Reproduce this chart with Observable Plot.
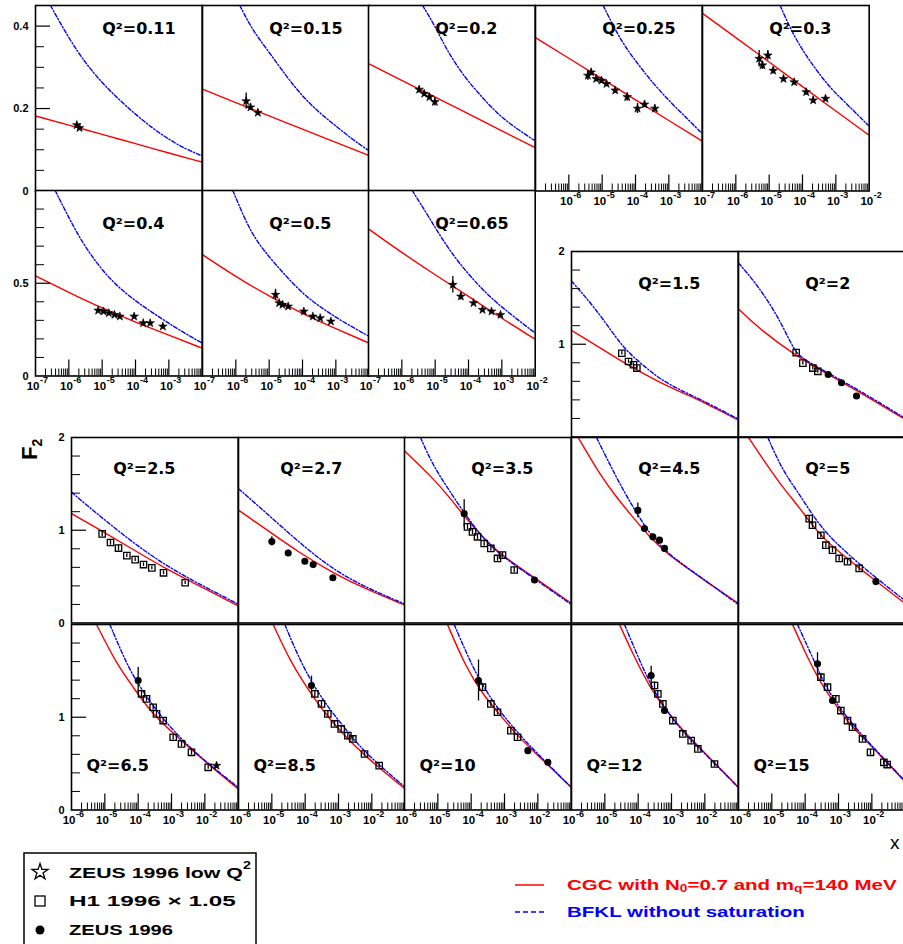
<!DOCTYPE html>
<html>
<head>
<meta charset="utf-8">
<script src="https://cdn.jsdelivr.net/npm/d3@7"></script>
<script src="https://cdn.jsdelivr.net/npm/@observablehq/plot@0.6"></script>
<style>
  body { margin: 0; background: #fff; }
  #fig { position: relative; width: 903px; height: 944px; overflow: hidden; background: #fff; }
  #fig svg { position: absolute; }
</style>
</head>
<body>
<div id="fig"></div>
<script>
// Q² of each panel (GeV²), in drawing order
const q2Labels = ["0.11","0.15","0.2","0.25","0.3","0.4","0.5","0.65","1.5","2",
                  "2.5","2.7","3.5","4.5","5","6.5","8.5","10","12","15"];

// CGC prediction per panel: [log10 x, F2]
const cgcCurves = [
  [[-7,0.182],[-6,0.160],[-5,0.137],[-4,0.115],[-3,0.092],[-2,0.070]],
  [[-7,0.247],[-6,0.214],[-5,0.182],[-4,0.150],[-3,0.118],[-2,0.086]],
  [[-7,0.309],[-6,0.268],[-5,0.228],[-4,0.187],[-3,0.146],[-2,0.105]],
  [[-7,0.372],[-6,0.322],[-5,0.272],[-4,0.221],[-3,0.171],[-2,0.121]],
  [[-7,0.431],[-6,0.372],[-5,0.313],[-4,0.253],[-3,0.194],[-2,0.135]],
  [[-7,0.54],[-6,0.45],[-5,0.365],[-4,0.29],[-3,0.22],[-2,0.15]],
  [[-7,0.654],[-6,0.535],[-5,0.43],[-4,0.335],[-3,0.255],[-2,0.177]],
  [[-7,0.793],[-6,0.665],[-5,0.545],[-4,0.43],[-3,0.31],[-2,0.198]],
  [[-6,1.15],[-5.35,1.009],[-4.34,0.779],[-3.34,0.584],[-2.34,0.425],[-1.83,0.336],[-1,0.184]],
  [[-6,1.38],[-5.32,1.15],[-4.32,0.885],[-3.31,0.673],[-2.3,0.471],[-1,0.188]],
  [[-6,1.18],[-5.13,1.0],[-4.14,0.79],[-3.14,0.577],[-2.15,0.399],[-1,0.185]],
  [[-6,1.217],[-5.15,1.004],[-4.16,0.754],[-3.17,0.541],[-2.17,0.363],[-1,0.192]],
  [[-6,1.857],[-5.17,1.571],[-4.66,1.36],[-4.16,1.13],[-3.66,0.93],[-3.16,0.75],[-2.15,0.5],[-1,0.214]],
  [[-5.8,2.0],[-5.15,1.6],[-4.66,1.36],[-4.16,1.14],[-3.66,0.93],[-3.16,0.75],[-2.17,0.5],[-1,0.214]],
  [[-5.7,2.0],[-5.17,1.714],[-4.68,1.464],[-4.18,1.25],[-3.68,1.0],[-3.18,0.821],[-2.18,0.536],[-1,0.21]],
  [[-5.25,2.0],[-4.65,1.576],[-4.15,1.324],[-3.65,1.072],[-3.15,0.892],[-2.15,0.568],[-1,0.227]],
  [[-4.96,2.0],[-4.46,1.612],[-3.96,1.324],[-3.47,1.072],[-2.97,0.856],[-2.17,0.568],[-1,0.227]],
  [[-4.71,2.0],[-4.16,1.54],[-3.66,1.252],[-3.16,1.036],[-2.66,0.82],[-2.15,0.64],[-1,0.245]],
  [[-4.56,2.0],[-4.16,1.683],[-3.66,1.324],[-3.16,1.072],[-2.66,0.856],[-2.16,0.676],[-1,0.245]],
  [[-4.38,2.0],[-3.98,1.683],[-3.58,1.396],[-3.18,1.18],[-2.68,0.928],[-2.18,0.748],[-1.69,0.568],[-1,0.30]]
];

// BFKL without saturation per panel: [log10 x, F2]
const bfklCurves = [
  [[-6.55,0.45],[-6,0.37],[-5.5,0.31],[-5,0.262],[-4.5,0.222],[-4,0.186],[-3.5,0.153],[-3,0.125],[-2.5,0.102],[-2,0.085]],
  [[-5.88,0.45],[-5.5,0.39],[-5.04,0.341],[-4.5,0.28],[-4.04,0.233],[-3.5,0.19],[-3.05,0.161],[-2.5,0.125],[-2.05,0.10]],
  [[-5.38,0.45],[-5,0.40],[-4.65,0.341],[-4.12,0.276],[-3.6,0.228],[-3.08,0.183],[-2.55,0.151],[-2.03,0.123]],
  [[-4.97,0.45],[-4.45,0.365],[-3.94,0.309],[-3.42,0.256],[-2.91,0.212],[-2.39,0.171],[-2.0,0.139]],
  [[-4.67,0.45],[-4.25,0.373],[-3.73,0.309],[-3.2,0.252],[-2.68,0.212],[-2,0.157]],
  [[-6.41,1.0],[-5.82,0.789],[-5.39,0.663],[-4.85,0.537],[-4.31,0.447],[-3.77,0.375],[-3.24,0.312],[-2.7,0.249],[-2,0.177]],
  [[-6.09,1.0],[-5.56,0.771],[-5.02,0.645],[-4.49,0.537],[-3.96,0.438],[-3.42,0.366],[-2.89,0.303],[-2,0.213]],
  [[-5.69,1.0],[-5.2,0.861],[-4.66,0.699],[-4.12,0.573],[-3.58,0.465],[-3.04,0.375],[-2,0.231]],
  [[-6,1.68],[-5.65,1.54],[-5.04,1.27],[-4.44,0.95],[-3.74,0.74],[-3.34,0.625],[-2.84,0.525],[-2.34,0.44],[-1.83,0.35],[-1,0.195]],
  [[-6,1.876],[-5.53,1.68],[-5.12,1.469],[-4.82,1.292],[-4.52,1.08],[-4.32,0.938],[-4.11,0.85],[-3.31,0.69],[-2.3,0.485],[-1,0.202]],
  [[-6,1.41],[-5.13,1.146],[-4.14,0.861],[-3.14,0.612],[-2.15,0.416],[-1,0.203]],
  [[-6,1.448],[-5.15,1.181],[-4.16,0.861],[-3.17,0.577],[-2.17,0.381],[-1,0.203]],
  [[-5.52,2.0],[-5.17,1.714],[-4.66,1.429],[-4.16,1.161],[-3.66,0.92],[-3.16,0.74],[-2.15,0.49],[-1,0.2]],
  [[-5.25,2.0],[-4.66,1.571],[-4.16,1.25],[-3.66,0.964],[-3.16,0.76],[-2.17,0.505],[-1,0.2]],
  [[-5.12,2.0],[-4.68,1.643],[-4.18,1.393],[-3.68,1.107],[-3.18,0.893],[-2.18,0.571],[-1,0.24]],
  [[-4.85,2.0],[-4.35,1.576],[-3.95,1.324],[-3.45,1.072],[-2.95,0.856],[-2.15,0.568],[-1,0.245]],
  [[-4.61,2.0],[-4.16,1.612],[-3.66,1.288],[-3.16,1.036],[-2.67,0.82],[-2.17,0.604],[-1,0.245]],
  [[-4.51,2.0],[-3.96,1.54],[-3.56,1.288],[-3.16,1.072],[-2.66,0.856],[-2.15,0.658],[-1,0.245]],
  [[-4.41,2.0],[-3.96,1.612],[-3.56,1.30],[-3.16,1.08],[-2.66,0.84],[-2.16,0.665],[-1,0.245]],
  [[-4.23,2.0],[-3.78,1.647],[-3.38,1.324],[-2.98,1.108],[-2.58,0.928],[-2.18,0.76],[-1.69,0.575],[-1,0.31]]
];

// Measurements per panel: [log10 x, F2, error, set]
// set: "s" = ZEUS 1996 low Q², "h" = H1 1996 × 1.05, "z" = ZEUS 1996
const measurements = [
  [[-5.76,0.160,0.006,"s"],[-5.68,0.153,0.006,"s"]],
  [[-5.69,0.218,0.02,"s"],[-5.56,0.203,0.008,"s"],[-5.34,0.19,0.007,"s"]],
  [[-5.48,0.246,0.008,"s"],[-5.33,0.236,0.007,"s"],[-5.17,0.228,0.007,"s"],[-5.01,0.216,0.01,"s"]],
  [[-5.43,0.28,0.012,"s"],[-5.33,0.288,0.008,"s"],[-5.18,0.272,0.007,"s"],[-5.02,0.268,0.007,"s"],[-4.87,0.26,0.007,"s"],
   [-4.61,0.244,0.007,"s"],[-4.25,0.228,0.01,"s"],[-3.94,0.2,0.012,"s"],[-3.73,0.21,0.008,"s"],[-3.42,0.2,0.008,"s"]],
  [[-5.3,0.321,0.02,"s"],[-5.2,0.305,0.01,"s"],[-5.04,0.329,0.012,"s"],[-4.88,0.292,0.008,"s"],[-4.57,0.272,0.007,"s"],
   [-4.25,0.264,0.007,"s"],[-3.89,0.24,0.008,"s"],[-3.68,0.22,0.008,"s"],[-3.31,0.224,0.007,"s"]],
  [[-5.12,0.353,0.01,"s"],[-4.96,0.348,0.008,"s"],[-4.8,0.339,0.008,"s"],[-4.63,0.33,0.008,"s"],[-4.47,0.321,0.008,"s"],
   [-4.04,0.321,0.01,"s"],[-3.77,0.285,0.008,"s"],[-3.56,0.285,0.008,"s"],[-3.18,0.267,0.01,"s"]],
  [[-4.81,0.438,0.03,"s"],[-4.7,0.393,0.01,"s"],[-4.6,0.384,0.01,"s"],[-4.43,0.375,0.01,"s"],[-3.96,0.348,0.01,"s"],
   [-3.69,0.321,0.01,"s"],[-3.47,0.312,0.01,"s"],[-3.15,0.294,0.01,"s"]],
  [[-4.47,0.492,0.045,"s"],[-4.23,0.429,0.02,"s"],[-3.85,0.393,0.01,"s"],[-3.58,0.357,0.01,"s"],[-3.31,0.348,0.01,"s"],[-3.04,0.33,0.01,"s"]],
  [[-4.49,0.903,0.02,"h"],[-4.29,0.814,0.02,"h"],[-4.14,0.779,0.02,"h"],[-4.04,0.743,0.02,"h"]],
  [[-4.27,0.91,0.02,"h"],[-4.07,0.796,0.02,"h"],[-3.77,0.743,0.02,"h"],[-3.62,0.708,0.02,"h"],[-3.31,0.673,0.02,"z"],
   [-2.91,0.584,0.02,"z"],[-2.46,0.442,0.02,"z"]],
  [[-5.08,0.961,0.03,"h"],[-4.83,0.868,0.03,"h"],[-4.59,0.808,0.03,"h"],[-4.34,0.726,0.02,"h"],[-4.09,0.683,0.02,"h"],
   [-3.84,0.63,0.02,"h"],[-3.59,0.594,0.02,"h"],[-3.24,0.541,0.02,"h"],[-2.59,0.434,0.02,"h"]],
  [[-5.0,0.879,0.05,"z"],[-4.51,0.754,0.03,"z"],[-4.01,0.665,0.03,"z"],[-3.76,0.63,0.03,"z"],[-3.17,0.488,0.02,"z"]],
  [[-4.21,1.179,0.15,"z"],[-4.11,1.036,0.03,"h"],[-3.96,0.982,0.03,"h"],[-3.81,0.929,0.03,"h"],[-3.61,0.857,0.03,"h"],
   [-3.41,0.804,0.03,"h"],[-3.21,0.696,0.03,"h"],[-3.06,0.732,0.03,"h"],[-2.71,0.571,0.03,"h"],[-2.1,0.464,0.03,"z"]],
  [[-4.01,1.214,0.08,"z"],[-3.81,1.018,0.03,"z"],[-3.56,0.929,0.03,"z"],[-3.36,0.893,0.03,"z"],[-3.21,0.804,0.03,"z"]],
  [[-3.88,1.125,0.03,"h"],[-3.78,1.054,0.03,"h"],[-3.53,0.946,0.03,"h"],[-3.38,0.839,0.03,"h"],[-3.18,0.786,0.03,"h"],
   [-2.98,0.696,0.03,"h"],[-2.73,0.661,0.03,"h"],[-2.38,0.589,0.03,"h"],[-1.88,0.446,0.02,"z"]],
  [[-4.0,1.396,0.14,"z"],[-3.9,1.252,0.04,"h"],[-3.75,1.198,0.03,"h"],[-3.55,1.108,0.03,"h"],[-3.45,1.036,0.03,"h"],
   [-3.25,0.964,0.03,"h"],[-2.95,0.784,0.03,"h"],[-2.7,0.712,0.03,"h"],[-2.4,0.622,0.03,"h"],[-1.9,0.46,0.02,"h"],[-1.65,0.478,0.03,"s"]],
  [[-3.81,1.342,0.1,"z"],[-3.71,1.252,0.04,"h"],[-3.51,1.144,0.03,"h"],[-3.32,1.036,0.03,"h"],[-3.12,0.928,0.03,"h"],
   [-2.92,0.874,0.03,"h"],[-2.72,0.802,0.03,"h"],[-2.57,0.766,0.03,"h"],[-2.22,0.604,0.03,"h"],[-1.78,0.478,0.02,"h"]],
  [[-3.78,1.396,0.22,"z"],[-3.66,1.324,0.04,"h"],[-3.41,1.144,0.03,"h"],[-3.21,1.054,0.03,"h"],[-2.81,0.856,0.03,"h"],
   [-2.61,0.784,0.03,"h"],[-2.3,0.64,0.03,"z"],[-1.7,0.514,0.03,"z"]],
  [[-3.61,1.45,0.1,"z"],[-3.51,1.342,0.04,"h"],[-3.41,1.252,0.03,"h"],[-3.26,1.144,0.03,"h"],[-3.21,1.072,0.03,"z"],
   [-2.96,0.964,0.03,"h"],[-2.66,0.82,0.03,"h"],[-2.41,0.748,0.03,"h"],[-2.21,0.658,0.03,"h"],[-1.71,0.496,0.03,"h"]],
  [[-3.63,1.576,0.12,"z"],[-3.53,1.432,0.04,"h"],[-3.33,1.324,0.03,"h"],[-3.18,1.18,0.03,"z"],[-3.08,1.198,0.03,"h"],
   [-2.93,1.072,0.03,"h"],[-2.73,0.964,0.03,"h"],[-2.58,0.892,0.03,"h"],[-2.28,0.766,0.03,"h"],[-2.04,0.622,0.03,"h"],
   [-1.64,0.514,0.03,"h"],[-1.54,0.49,0.03,"h"]]
];

// Axis tick labels (x given as decade exponents)
const xDecadesSmall = [-7,-6,-5,-4,-3,-2];
const xDecadesLarge = [-6,-5,-4,-3,-2];
const yLabelsRow1 = [0,0.2,0.4];
const yLabelsRow2 = [0,0.5];
const yLabelsRight = [1,2];
const yLabelsRow3 = [0,1,2];
const yLabelsRow4 = [0,1];

// Legend entries
const dataLegend = [
  {set:"s", label:"ZEUS 1996 low Q", sup:"2"},
  {set:"h", label:"H1 1996 \u00d7 1.05", sup:""},
  {set:"z", label:"ZEUS 1996", sup:""}
];
const curveLegend = [
  {color:"#ff0000", dash:null, parts:[["CGC with N",""],["0","sub"],["=0.7 and m",""],["q","sub"],["=140 MeV",""]]},
  {color:"#0000ff", dash:"5,3", parts:[["BFKL without saturation",""]]}
];

// ---- layout of the panel grid ----
const W = 166.7, H = 185.5;
const colsTop = [35, 201.7, 368.4, 535.1, 701.8];
const colsLow = [71, 237.7, 404.4, 571.1, 737.8];
const small = xDecadesSmall, large = xDecadesLarge;

const rows = [
  {top:5, lefts:colsTop, panels:[0,1,2,3,4], xd:[-7,-2], yd:[0,0.45], step:0.05, major:[0.2,0.4],
   yLabels:yLabelsRow1, labelDy:23, labelDx:[0.4,0.4,0.4,0.4,0.4],
   xLabels:[null,null,null,small.slice(1,5),small]},
  {top:190, lefts:colsTop, panels:[5,6,7], xd:[-7,-2], yd:[0,1], step:0.1, major:[0.5],
   yLabels:yLabelsRow2, labelDy:33, labelDx:[0.4,0.4,0.4],
   xLabels:[small.slice(0,5),small.slice(0,5),small]},
  {top:251, lefts:[colsLow[3],colsLow[4]], panels:[8,9], xd:[-6,-1], yd:[0,2], step:0.2, major:[1],
   yLabels:yLabelsRight, labelDy:32, labelDx:[0.4,0.4], xLabels:[null,null]},
  {top:437, lefts:colsLow, panels:[10,11,12,13,14], xd:[-6,-1], yd:[0,2], step:0.2, major:[1],
   yLabels:yLabelsRow3, labelDy:31, labelDx:[0.25,0.25,0.4,0.4,0.4], xLabels:[null,null,null,null,null]},
  {top:623.5, lefts:colsLow, panels:[15,16,17,18,19], xd:[-6,-1], yd:[0,2], step:0.2, major:[1],
   yLabels:yLabelsRow4, labelBottom:44, labelDx:[0.09,0.09,0.09,0.09,0.09],
   xLabels:[large,large,large,large,large]}
];

const fig = document.getElementById("fig");
const ML = 40, MR = 10, MT = 10, MB = 28;
const font = "'Liberation Sans', Arial, sans-serif";

function drawPanel(row, j) {
  const k = row.panels[j];
  const [x0, x1] = row.xd, [y0, y1] = row.yd;
  const X = d => 10 ** d[0];
  const marks = [Plot.frame({fill: "white"})];

  // curves
  marks.push(Plot.line(cgcCurves[k], {x: X, y: d => d[1], stroke: "#ff0000", strokeWidth: 1.4, curve: "basis", clip: true}));
  marks.push(Plot.line(bfklCurves[k], {x: X, y: d => d[1], stroke: "#0000ff", strokeWidth: 1.4,
    strokeDasharray: "4,2,1.2,2", curve: "basis", clip: true}));

  // measurements with error bars
  const pts = measurements[k];
  marks.push(Plot.ruleX(pts, {x: X, y1: d => d[1] - d[2], y2: d => d[1] + d[2], stroke: "black", strokeWidth: 1.3, clip: true}));
  marks.push(Plot.dot(pts.filter(d => d[3] === "h"), {x: X, y: d => d[1], symbol: "square", r: 3.6, stroke: "black", strokeWidth: 1.3, fill: "none"}));
  marks.push(Plot.dot(pts.filter(d => d[3] === "z"), {x: X, y: d => d[1], symbol: "circle", r: 2.8, fill: "black", stroke: "black"}));
  marks.push(Plot.dot(pts.filter(d => d[3] === "s"), {x: X, y: d => d[1], symbol: "star", r: 2.7, fill: "black", stroke: "black", strokeWidth: 0.6}));

  // bottom axis: inward ticks and decade labels
  const xl = row.xLabels[j];
  if (xl) {
    const minor = [];
    for (let e = x0; e < x1; e++) for (let m = 2; m <= 9; m++) minor.push(m * 10 ** e);
    const major = d3.range(x0 + 1, x1).map(e => 10 ** e);
    marks.push(Plot.tickX(minor, {x: d => d, insetTop: H - 7, stroke: "black", strokeWidth: 1}));
    marks.push(Plot.tickX(major, {x: d => d, insetTop: H - 16, stroke: "black", strokeWidth: 1.2}));
    marks.push(Plot.text(xl, {x: d => 10 ** d, frameAnchor: "bottom", dy: 14, dx: 4, text: () => "10",
      textAnchor: "end", fontSize: 11.5, fontWeight: "bold", fontFamily: font}));
    marks.push(Plot.text(xl, {x: d => 10 ** d, frameAnchor: "bottom", dy: 7.5, dx: 4.5, text: d => String(d),
      textAnchor: "start", fontSize: 9, fontWeight: "bold", fontFamily: font}));
  }

  // left axis on the first panel of each row
  if (j === 0) {
    const minor = d3.range(y0 + row.step, y1 - 1e-9, row.step).filter(v => !row.major.some(m => Math.abs(m - v) < 1e-9));
    marks.push(Plot.tickY(minor, {y: d => d, insetRight: W - 9, stroke: "black", strokeWidth: 1}));
    marks.push(Plot.tickY(row.major.filter(v => v < y1), {y: d => d, insetRight: W - 15, stroke: "black", strokeWidth: 1.2}));
    marks.push(Plot.text(row.yLabels, {y: d => d, frameAnchor: "left", dx: -7, textAnchor: "end",
      text: d => String(d), fontSize: 11, fontWeight: "bold", fontFamily: font}));
  }

  // Q² label
  const lab = "Q\u00b2=" + q2Labels[k];
  const labFont = "'DejaVu Sans', sans-serif";
  if (row.labelBottom != null) {
    marks.push(Plot.text([lab], {frameAnchor: "bottom-left", dx: row.labelDx[j] * W, dy: -row.labelBottom,
      text: d => d, textAnchor: "start", lineAnchor: "middle", fontSize: 16, fontWeight: "bold", fontFamily: labFont}));
  } else {
    marks.push(Plot.text([lab], {frameAnchor: "top-left", dx: row.labelDx[j] * W, dy: row.labelDy,
      text: d => d, textAnchor: "start", lineAnchor: "middle", fontSize: 16, fontWeight: "bold", fontFamily: labFont}));
  }

  marks.push(Plot.frame({stroke: "black", strokeWidth: 1.6}));

  const svg = Plot.plot({
    width: ML + W + MR, height: MT + H + MB,
    marginLeft: ML, marginRight: MR, marginTop: MT, marginBottom: MB,
    x: {type: "log", domain: [10 ** x0, 10 ** x1], axis: null},
    y: {domain: [y0, y1], axis: null},
    style: {position: "absolute", left: (row.lefts[j] - ML) + "px", top: (row.top - MT) + "px",
            overflow: "visible", background: "transparent", fontFamily: font},
    marks
  });
  fig.appendChild(svg);
}

rows.forEach(row => row.panels.forEach((_, j) => drawPanel(row, j)));

// ---- titles and legends ----
const over = d3.select(fig).append("svg")
  .attr("width", 903).attr("height", 944)
  .style("left", "0px").style("top", "0px").style("pointer-events", "none");

const fTitle = over.append("text").attr("transform", "translate(37,460) rotate(-90)")
  .attr("font-family", font).attr("font-weight", "bold").attr("font-size", 22);
fTitle.append("tspan").text("F");
fTitle.append("tspan").attr("font-size", 14).attr("dy", 5).text("2");

over.append("text").attr("x", 890).attr("y", 849).attr("font-family", font)
  .attr("font-size", 19).text("x");

function fit(sel, x, y, target) {
  const w = sel.node().getComputedTextLength();
  const s = target ? target / w : 1;
  sel.attr("transform", `translate(${x},${y}) scale(${s},1)`);
  return s;
}

// data legend
over.append("rect").attr("x", 24).attr("y", 853).attr("width", 232).attr("height", 120)
  .attr("fill", "white").attr("stroke", "black").attr("stroke-width", 1.5);
const legY = [872, 901, 930];
const legW = [182, 167, 104];
dataLegend.forEach((e, i) => {
  const y = legY[i];
  if (e.set === "s") over.append("path").attr("d", d3.symbol(d3.symbolStar, 80)())
    .attr("transform", `translate(40,${y})`).attr("fill", "white").attr("stroke", "black").attr("stroke-width", 1.3);
  if (e.set === "h") over.append("rect").attr("x", 35).attr("y", y - 5).attr("width", 10).attr("height", 10)
    .attr("fill", "none").attr("stroke", "black").attr("stroke-width", 1.3);
  if (e.set === "z") over.append("circle").attr("cx", 40).attr("cy", y).attr("r", 4.5).attr("fill", "black");
  const t = over.append("text").attr("font-family", font).attr("font-size", 15).attr("font-weight", "bold")
    .attr("dominant-baseline", "central");
  t.append("tspan").text(e.label);
  if (e.sup) t.append("tspan").attr("font-size", 10).attr("dy", -6).text(e.sup);
  fit(t, 69, y, legW[i]);
});

// curve legend
const curY = [885, 912];
let sc = 1;
[1, 0].forEach(i => {
  const e = curveLegend[i], y = curY[i];
  const ln = over.append("line").attr("x1", 515).attr("x2", 544).attr("y1", y).attr("y2", y)
    .attr("stroke", e.color).attr("stroke-width", 1.5);
  if (e.dash) ln.attr("stroke-dasharray", e.dash);
  const t = over.append("text").attr("font-family", font).attr("font-size", 15).attr("font-weight", "bold")
    .attr("fill", e.color).attr("dominant-baseline", "central");
  e.parts.forEach(([s, kind]) => {
    const ts = t.append("tspan").text(s);
    if (kind === "sub") ts.attr("font-size", 10).attr("dy", 4);
    else if (t.selectAll("tspan").size() > 1) ts.attr("dy", -4);
  });
  if (i === 1) sc = fit(t, 567, y, 238);
  else t.attr("transform", `translate(567,${y}) scale(${sc},1)`);
});
</script>
</body>
</html>
